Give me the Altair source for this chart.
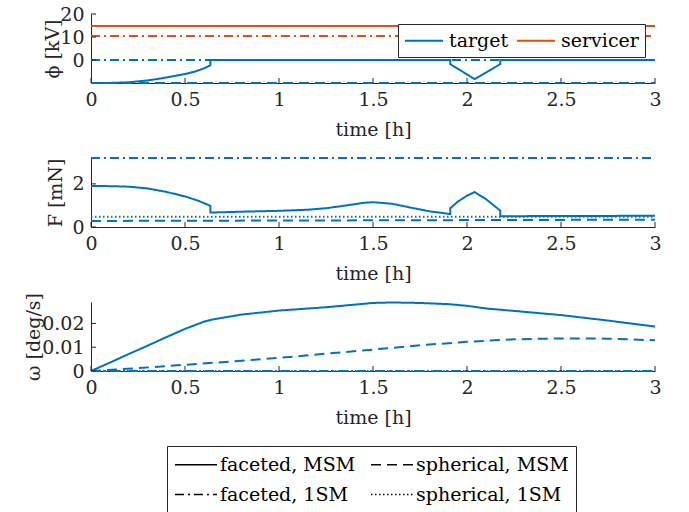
import altair as alt
import pandas as pd

BLUE = "#0072BD"
ORANGE = "#D95319"
AX = "#262626"
FONT = "DejaVu Serif"

BODIES = ["target", "servicer"]
KINDS = ["faceted, MSM", "spherical, MSM", "faceted, 1SM", "spherical, 1SM"]
DASHES = [[1, 0], [10, 6], [9, 4, 2, 4], [1.5, 2.5]]

TIME_TICKS = [0, 0.5, 1, 1.5, 2, 2.5, 3]
SPAN = [0, 3]

# ---- panel 1: potential phi [kV]
phi_t_target_fMSM = [0, 0.1, 0.2, 0.3, 0.35, 0.4, 0.5, 0.55, 0.6, 0.635, 0.635,
                     1.911, 1.911, 1.975, 2.04, 2.11, 2.177, 2.177, 3.0]
phi_v_target_fMSM = [-10, -9.97, -9.7, -8.9, -8.3, -7.6, -6.1, -5.1, -3.7, -2.3, 0,
                     0, -1.8, -5.0, -8.3, -5.0, -1.8, 0, 0]
phi_target_f1SM = [0, 0]
phi_target_sMSM = [-10, -10]
phi_servicer_fMSM = [14.8, 14.8]
phi_servicer_f1SM = [10.4, 10.4]
PHI_TICKS = [0, 10, 20]
PHI_DOMAIN = [-10, 20]

# ---- panel 2: force F [mN]
F_t_fMSM = [0, 0.1, 0.2, 0.3, 0.4, 0.5, 0.57, 0.635, 0.635, 0.8, 1.0, 1.15, 1.25,
            1.35, 1.45, 1.5, 1.6, 1.7, 1.8, 1.911, 1.911, 1.95, 2.0, 2.04, 2.1,
            2.15, 2.177, 2.177, 2.5, 3.0]
F_v_fMSM = [1.9, 1.895, 1.87, 1.79, 1.63, 1.42, 1.22, 0.98, 0.67, 0.71, 0.75, 0.8,
            0.87, 0.99, 1.12, 1.15, 1.08, 0.9, 0.73, 0.6, 0.87, 1.17, 1.45, 1.62,
            1.3, 0.95, 0.76, 0.5, 0.51, 0.52]
F_f1SM = [3.2, 3.2]
F_t_sMSM = [0, 1, 2, 3]
F_v_sMSM = [0.28, 0.3, 0.32, 0.34]
F_s1SM = [0.47, 0.47]
F_TICKS = [0, 2]
F_DOMAIN = [0, 3.2]

# ---- panel 3: angular rate omega [deg/s]
w_t_fMSM = [0, 0.1, 0.2, 0.3, 0.4, 0.5, 0.6, 0.65, 0.8, 1.0, 1.25, 1.5, 1.6,
            1.75, 1.9, 2.0, 2.1, 2.3, 2.5, 2.75, 3.0]
w_v_fMSM = [0, 0.0035, 0.0071, 0.0106, 0.0142, 0.0177, 0.0207, 0.0217, 0.0237,
            0.0254, 0.0268, 0.0286, 0.0288, 0.0286, 0.0281, 0.0274, 0.0263,
            0.0249, 0.0235, 0.0212, 0.0187]
w_t_sMSM = [0, 0.25, 0.5, 0.75, 1.0, 1.25, 1.5, 1.75, 2.0, 2.25, 2.5, 2.75, 3.0]
w_v_sMSM = [0, 0.0012, 0.0026, 0.004, 0.0055, 0.0073, 0.009, 0.0108, 0.0123,
            0.0133, 0.0137, 0.0136, 0.0129]
w_f1SM = [0, 0]
w_s1SM = [0, 0]
W_TICKS = [0, 0.01, 0.02]
W_DOMAIN = [0, 0.029]

W, H = 564, 69

# legend line symbol: a horizontal stroke drawn to the right of the symbol slot
LINE_SYMBOL = "M-1,0H3"


def frame(rows):
    recs = []
    for body, kind, ts, vs in rows:
        for i, (t, v) in enumerate(zip(ts, vs)):
            recs.append({"body": body, "kind": kind, "t": t, "v": v, "i": i})
    return pd.DataFrame(recs)


def panel(df, ydomain, yticks, ytitle, ytitle_x, color_legend=None, dash_legend=None):
    xaxis = alt.Axis(values=TIME_TICKS, format="~r", title="time [h]")
    yaxis = alt.Axis(values=yticks, format="~r", title=ytitle, titleX=ytitle_x)
    xscale = alt.Scale(domain=SPAN, nice=False, zero=False)
    yscale = alt.Scale(domain=ydomain, nice=False, zero=False)
    lines = alt.Chart(df).mark_line(strokeWidth=2).encode(
        x=alt.X("t:Q", scale=xscale, axis=xaxis),
        y=alt.Y("v:Q", scale=yscale, axis=yaxis),
        color=alt.Color("body:N", scale=alt.Scale(domain=BODIES, range=[BLUE, ORANGE]),
                        legend=color_legend),
        strokeDash=alt.StrokeDash("kind:N", scale=alt.Scale(domain=KINDS, range=DASHES),
                                  legend=dash_legend),
        order=alt.Order("i:Q"),
    )
    xt = alt.Chart(pd.DataFrame({"t": TIME_TICKS})).mark_rule(color=AX, strokeWidth=1).encode(
        x=alt.X("t:Q", scale=xscale, axis=xaxis), y=alt.value(H), y2=alt.value(H - 5))
    yt = alt.Chart(pd.DataFrame({"v": yticks})).mark_rule(color=AX, strokeWidth=1).encode(
        y=alt.Y("v:Q", scale=yscale, axis=yaxis), x=alt.value(0), x2=alt.value(5))
    return alt.layer(lines, xt, yt).properties(width=W, height=H)


df1 = frame([
    ("target", "faceted, 1SM", SPAN, phi_target_f1SM),
    ("target", "spherical, MSM", SPAN, phi_target_sMSM),
    ("servicer", "faceted, 1SM", SPAN, phi_servicer_f1SM),
    ("servicer", "faceted, MSM", SPAN, phi_servicer_fMSM),
    ("target", "faceted, MSM", phi_t_target_fMSM, phi_v_target_fMSM),
])
df2 = frame([
    ("target", "faceted, 1SM", SPAN, F_f1SM),
    ("target", "spherical, MSM", F_t_sMSM, F_v_sMSM),
    ("target", "spherical, 1SM", SPAN, F_s1SM),
    ("target", "faceted, MSM", F_t_fMSM, F_v_fMSM),
])
df3 = frame([
    ("target", "faceted, 1SM", SPAN, w_f1SM),
    ("target", "spherical, 1SM", SPAN, w_s1SM),
    ("target", "spherical, MSM", w_t_sMSM, w_v_sMSM),
    ("target", "faceted, MSM", w_t_fMSM, w_v_fMSM),
])

color_leg = alt.Legend(
    title=None, orient="none", legendX=307, legendY=10, direction="horizontal",
    symbolType=LINE_SYMBOL, symbolSize=361, symbolStrokeWidth=2,
    labelFont=FONT, labelFontSize=19, labelColor="black", labelOffset=24,
    columnPadding=4, padding=6, strokeColor=AX, fillColor="white",
)
dash_leg = alt.Legend(
    title=None, orient="none", legendX=76, legendY=144, direction="horizontal",
    columns=2, symbolType=LINE_SYMBOL, symbolSize=441, symbolStrokeWidth=1.5,
    symbolStrokeColor="black",
    labelFont=FONT, labelFontSize=19, labelColor="black", labelOffset=23,
    columnPadding=12, rowPadding=8, padding=7, strokeColor=AX, fillColor="white",
)

p1 = panel(df1, PHI_DOMAIN, PHI_TICKS, "ϕ [kV]", -29, color_legend=color_leg)
p2 = panel(df2, F_DOMAIN, F_TICKS, "F [mN]", -26)
p3 = panel(df3, W_DOMAIN, W_TICKS, "ω [deg/s]", -48, dash_legend=dash_leg)

chart = alt.vconcat(p1, p2, p3, spacing=75, bounds="flush").resolve_scale(
    color="independent", strokeDash="independent"
).configure(
    font=FONT, padding={"left": 24, "top": 5, "right": 5, "bottom": 5}
).configure_axis(
    labelFont=FONT, labelFontSize=19, titleFont=FONT, titleFontSize=19,
    titleFontWeight="normal", labelColor=AX, titleColor=AX, domainColor=AX,
    ticks=False, grid=False, labelFlush=False, labelPadding=7,
).configure_axisX(titlePadding=11).configure_axisY(labelPadding=7).configure_view(
    stroke=None
)

chart.save("out.html", embed_options={"renderer": "svg", "actions": False})
